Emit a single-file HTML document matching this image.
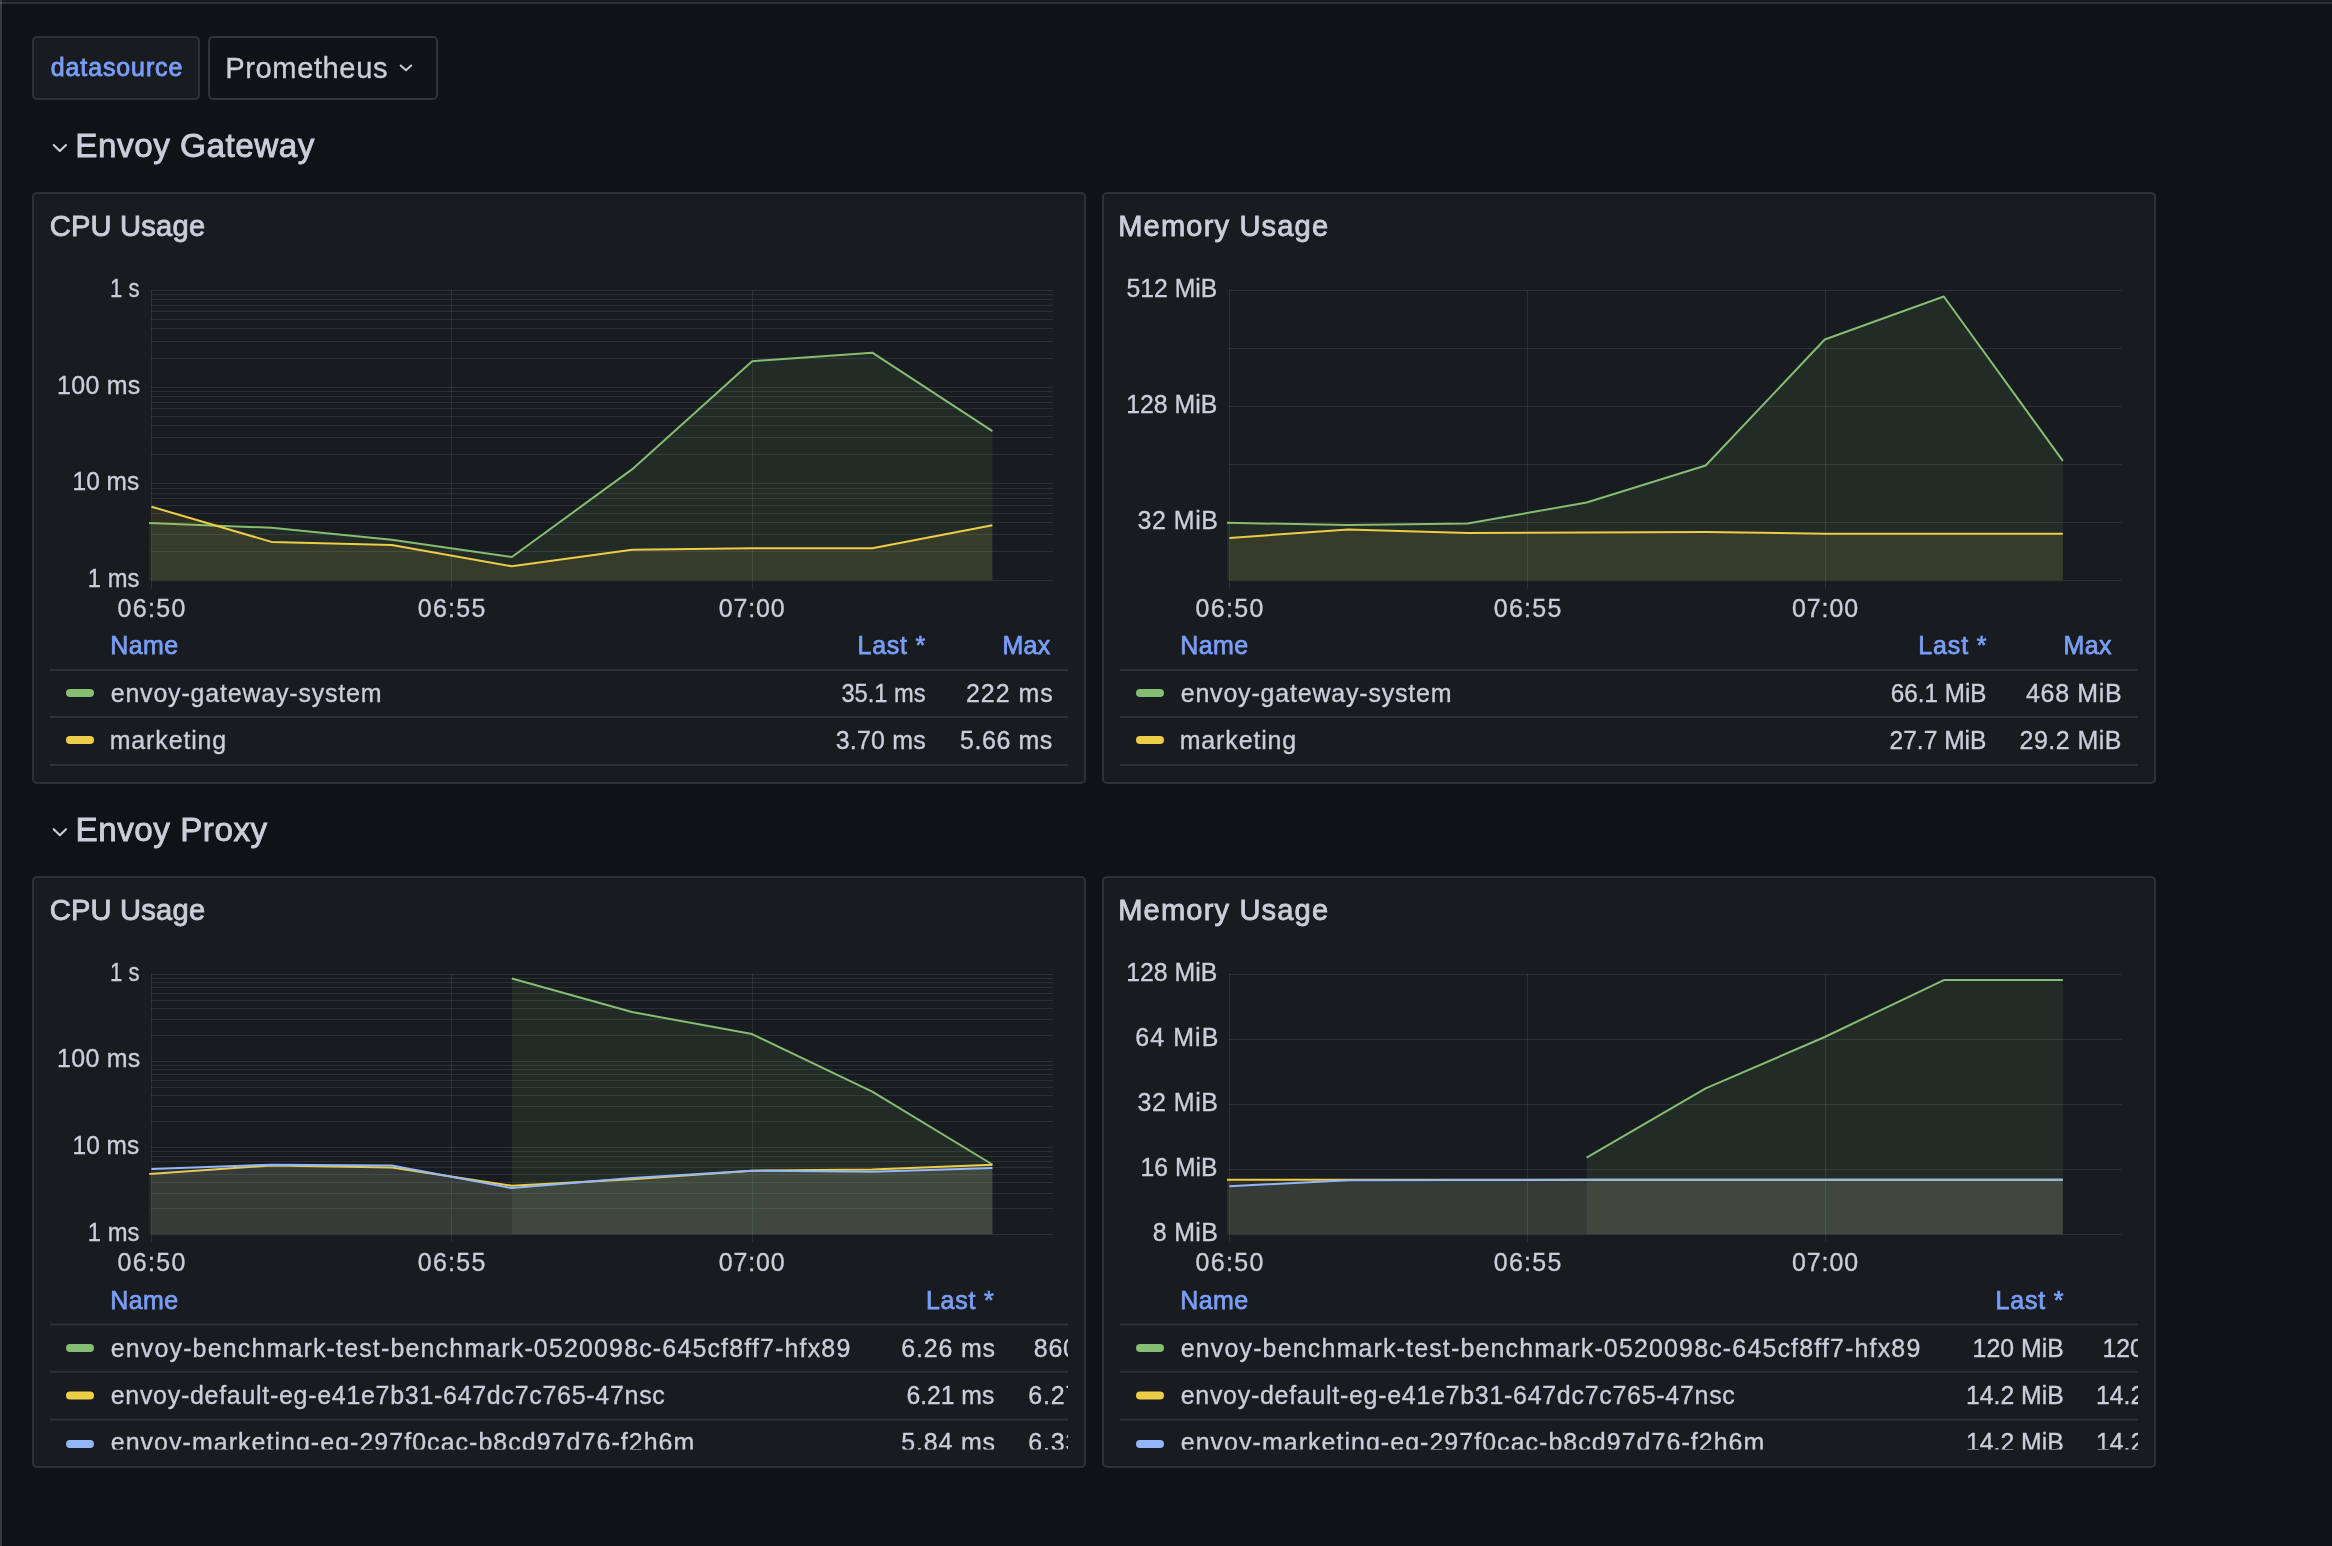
<!DOCTYPE html>
<html><head><meta charset="utf-8"><title>Grafana</title>
<style>
html,body{margin:0;padding:0;background:#111217;overflow:hidden;width:2332px;height:1546px}
svg{display:block;will-change:transform}
text{font-family:"Liberation Sans",sans-serif;white-space:pre}
</style></head><body>
<svg width="2332" height="1546" viewBox="0 0 2332 1546">
<defs>
<clipPath id="legclip3"><rect x="50" y="1420" width="1018" height="29.5"/></clipPath>
<clipPath id="legclip4"><rect x="1120" y="1420" width="1018" height="29.5"/></clipPath>
<clipPath id="legclip3w"><rect x="50" y="1300" width="1018" height="200"/></clipPath>
<clipPath id="legclip4w"><rect x="1120" y="1300" width="1018" height="200"/></clipPath>
</defs>
<rect x="0" y="0" width="2332" height="1546" fill="#111217"/>
<rect x="0" y="0" width="2332" height="2" fill="#191b1e"/>
<rect x="0" y="2" width="2332" height="2" fill="#2d2f33"/>
<rect x="0" y="0" width="2" height="2" fill="#3a3d40"/>
<rect x="0" y="2" width="2" height="2" fill="#505357"/>
<rect x="0" y="4" width="2" height="1542" fill="#39393c"/>
<rect x="33" y="37" width="166" height="62" rx="4" fill="#181b1f" stroke="#2d3034" stroke-width="2"/>
<rect x="209" y="37" width="228" height="62" rx="4" fill="#111217" stroke="#323439" stroke-width="2"/>
<polyline points="400.7,65.5 405.95,70.2 411.2,65.5" fill="none" stroke="#ccccdb" stroke-width="2" stroke-linecap="round" stroke-linejoin="round"/>
<polyline points="53.7,145.0 59.85,151.0 66.0,145.0" fill="none" stroke="#ccccdb" stroke-width="2.1" stroke-linecap="round" stroke-linejoin="round"/>
<polyline points="53.7,829.2 59.85,835.2 66.0,829.2" fill="none" stroke="#ccccdb" stroke-width="2.1" stroke-linecap="round" stroke-linejoin="round"/>
<rect x="33" y="193" width="1052" height="590" rx="4" fill="#181b1f" stroke="#2d3034" stroke-width="2"/>
<rect x="1103" y="193" width="1052" height="590" rx="4" fill="#181b1f" stroke="#2d3034" stroke-width="2"/>
<rect x="33" y="877" width="1052" height="590" rx="4" fill="#181b1f" stroke="#2d3034" stroke-width="2"/>
<rect x="1103" y="877" width="1052" height="590" rx="4" fill="#181b1f" stroke="#2d3034" stroke-width="2"/>
<rect x="50" y="669.0" width="1018" height="2" fill="#2d3034"/>
<rect x="50" y="716.0" width="1018" height="2" fill="#2d3034"/>
<rect x="50" y="764.0" width="1018" height="2" fill="#2d3034"/>
<rect x="50" y="1323.5" width="1018" height="2" fill="#2d3034"/>
<rect x="50" y="1370.8" width="1018" height="2" fill="#2d3034"/>
<rect x="50" y="1418.6" width="1018" height="2" fill="#2d3034"/>
<rect x="1120" y="669.0" width="1018" height="2" fill="#2d3034"/>
<rect x="1120" y="716.0" width="1018" height="2" fill="#2d3034"/>
<rect x="1120" y="764.0" width="1018" height="2" fill="#2d3034"/>
<rect x="1120" y="1323.5" width="1018" height="2" fill="#2d3034"/>
<rect x="1120" y="1370.8" width="1018" height="2" fill="#2d3034"/>
<rect x="1120" y="1418.6" width="1018" height="2" fill="#2d3034"/>
<rect x="66" y="689.0" width="28" height="8" rx="4" fill="#85bd72"/>
<rect x="66" y="736.0" width="28" height="8" rx="4" fill="#eccd47"/>
<rect x="66" y="1344.0" width="28" height="8" rx="4" fill="#85bd72"/>
<rect x="66" y="1391.6" width="28" height="8" rx="4" fill="#eccd47"/>
<rect x="66" y="1440.0" width="28" height="8" rx="4" fill="#94b7f9"/>
<rect x="1136" y="689.0" width="28" height="8" rx="4" fill="#85bd72"/>
<rect x="1136" y="736.0" width="28" height="8" rx="4" fill="#eccd47"/>
<rect x="1136" y="1344.0" width="28" height="8" rx="4" fill="#85bd72"/>
<rect x="1136" y="1391.6" width="28" height="8" rx="4" fill="#eccd47"/>
<rect x="1136" y="1440.0" width="28" height="8" rx="4" fill="#94b7f9"/>
<rect x="151" y="580" width="902" height="1" fill="rgba(240,250,255,0.09)"/>
<rect x="151" y="551" width="902" height="1" fill="rgba(240,250,255,0.09)"/>
<rect x="151" y="534" width="902" height="1" fill="rgba(240,250,255,0.09)"/>
<rect x="151" y="522" width="902" height="1" fill="rgba(240,250,255,0.09)"/>
<rect x="151" y="513" width="902" height="1" fill="rgba(240,250,255,0.09)"/>
<rect x="151" y="505" width="902" height="1" fill="rgba(240,250,255,0.09)"/>
<rect x="151" y="498" width="902" height="1" fill="rgba(240,250,255,0.09)"/>
<rect x="151" y="493" width="902" height="1" fill="rgba(240,250,255,0.09)"/>
<rect x="151" y="488" width="902" height="1" fill="rgba(240,250,255,0.09)"/>
<rect x="151" y="483" width="902" height="1" fill="rgba(240,250,255,0.09)"/>
<rect x="151" y="454" width="902" height="1" fill="rgba(240,250,255,0.09)"/>
<rect x="151" y="437" width="902" height="1" fill="rgba(240,250,255,0.09)"/>
<rect x="151" y="425" width="902" height="1" fill="rgba(240,250,255,0.09)"/>
<rect x="151" y="416" width="902" height="1" fill="rgba(240,250,255,0.09)"/>
<rect x="151" y="408" width="902" height="1" fill="rgba(240,250,255,0.09)"/>
<rect x="151" y="402" width="902" height="1" fill="rgba(240,250,255,0.09)"/>
<rect x="151" y="396" width="902" height="1" fill="rgba(240,250,255,0.09)"/>
<rect x="151" y="391" width="902" height="1" fill="rgba(240,250,255,0.09)"/>
<rect x="151" y="387" width="902" height="1" fill="rgba(240,250,255,0.09)"/>
<rect x="151" y="358" width="902" height="1" fill="rgba(240,250,255,0.09)"/>
<rect x="151" y="341" width="902" height="1" fill="rgba(240,250,255,0.09)"/>
<rect x="151" y="328" width="902" height="1" fill="rgba(240,250,255,0.09)"/>
<rect x="151" y="319" width="902" height="1" fill="rgba(240,250,255,0.09)"/>
<rect x="151" y="311" width="902" height="1" fill="rgba(240,250,255,0.09)"/>
<rect x="151" y="305" width="902" height="1" fill="rgba(240,250,255,0.09)"/>
<rect x="151" y="299" width="902" height="1" fill="rgba(240,250,255,0.09)"/>
<rect x="151" y="294" width="902" height="1" fill="rgba(240,250,255,0.09)"/>
<rect x="151" y="290" width="902" height="1" fill="rgba(240,250,255,0.09)"/>
<rect x="151" y="290" width="1" height="299" fill="rgba(240,250,255,0.09)"/>
<rect x="451" y="290" width="1" height="299" fill="rgba(240,250,255,0.09)"/>
<rect x="752" y="290" width="1" height="299" fill="rgba(240,250,255,0.09)"/>
<polygon points="149.00,580.20 149.00,522.90 271.55,527.80 391.69,539.80 511.84,557.00 631.99,469.40 752.13,361.20 872.28,352.70 992.43,431.10 992.43,580.20" fill="#85bd72" fill-opacity="0.1"/><polyline points="149.00,522.90 271.55,527.80 391.69,539.80 511.84,557.00 631.99,469.40 752.13,361.20 872.28,352.70 992.43,431.10" fill="none" stroke="#85bd72" stroke-width="2" stroke-linejoin="round"/>
<polygon points="151.40,580.20 151.40,506.70 271.55,541.90 391.69,545.00 511.84,566.30 631.99,549.80 752.13,548.30 872.28,548.30 992.43,525.30 992.43,580.20" fill="#eccd47" fill-opacity="0.1"/><polyline points="151.40,506.70 271.55,541.90 391.69,545.00 511.84,566.30 631.99,549.80 752.13,548.30 872.28,548.30 992.43,525.30" fill="none" stroke="#eccd47" stroke-width="2" stroke-linejoin="round"/>
<rect x="1229" y="290" width="893" height="1" fill="rgba(240,250,255,0.09)"/>
<rect x="1229" y="348" width="893" height="1" fill="rgba(240,250,255,0.09)"/>
<rect x="1229" y="406" width="893" height="1" fill="rgba(240,250,255,0.09)"/>
<rect x="1229" y="464" width="893" height="1" fill="rgba(240,250,255,0.09)"/>
<rect x="1229" y="522" width="893" height="1" fill="rgba(240,250,255,0.09)"/>
<rect x="1229" y="580" width="893" height="1" fill="rgba(240,250,255,0.09)"/>
<rect x="1229" y="290" width="1" height="299" fill="rgba(240,250,255,0.09)"/>
<rect x="1527" y="290" width="1" height="299" fill="rgba(240,250,255,0.09)"/>
<rect x="1825" y="290" width="1" height="299" fill="rgba(240,250,255,0.09)"/>
<polygon points="1227.00,580.20 1227.00,522.80 1348.47,525.10 1467.53,523.60 1586.60,502.50 1705.67,465.50 1824.73,339.50 1943.80,296.50 2062.87,460.90 2062.87,580.20" fill="#85bd72" fill-opacity="0.1"/><polyline points="1227.00,522.80 1348.47,525.10 1467.53,523.60 1586.60,502.50 1705.67,465.50 1824.73,339.50 1943.80,296.50 2062.87,460.90" fill="none" stroke="#85bd72" stroke-width="2" stroke-linejoin="round"/>
<polygon points="1229.40,580.20 1229.40,537.90 1348.47,529.60 1467.53,532.90 1586.60,532.50 1705.67,531.90 1824.73,533.70 1943.80,533.70 2062.87,533.70 2062.87,580.20" fill="#eccd47" fill-opacity="0.1"/><polyline points="1229.40,537.90 1348.47,529.60 1467.53,532.90 1586.60,532.50 1705.67,531.90 1824.73,533.70 1943.80,533.70 2062.87,533.70" fill="none" stroke="#eccd47" stroke-width="2" stroke-linejoin="round"/>
<rect x="151" y="1234" width="902" height="1" fill="rgba(240,250,255,0.09)"/>
<rect x="151" y="1208" width="902" height="1" fill="rgba(240,250,255,0.09)"/>
<rect x="151" y="1193" width="902" height="1" fill="rgba(240,250,255,0.09)"/>
<rect x="151" y="1182" width="902" height="1" fill="rgba(240,250,255,0.09)"/>
<rect x="151" y="1174" width="902" height="1" fill="rgba(240,250,255,0.09)"/>
<rect x="151" y="1167" width="902" height="1" fill="rgba(240,250,255,0.09)"/>
<rect x="151" y="1161" width="902" height="1" fill="rgba(240,250,255,0.09)"/>
<rect x="151" y="1156" width="902" height="1" fill="rgba(240,250,255,0.09)"/>
<rect x="151" y="1151" width="902" height="1" fill="rgba(240,250,255,0.09)"/>
<rect x="151" y="1147" width="902" height="1" fill="rgba(240,250,255,0.09)"/>
<rect x="151" y="1121" width="902" height="1" fill="rgba(240,250,255,0.09)"/>
<rect x="151" y="1106" width="902" height="1" fill="rgba(240,250,255,0.09)"/>
<rect x="151" y="1095" width="902" height="1" fill="rgba(240,250,255,0.09)"/>
<rect x="151" y="1087" width="902" height="1" fill="rgba(240,250,255,0.09)"/>
<rect x="151" y="1080" width="902" height="1" fill="rgba(240,250,255,0.09)"/>
<rect x="151" y="1074" width="902" height="1" fill="rgba(240,250,255,0.09)"/>
<rect x="151" y="1069" width="902" height="1" fill="rgba(240,250,255,0.09)"/>
<rect x="151" y="1065" width="902" height="1" fill="rgba(240,250,255,0.09)"/>
<rect x="151" y="1061" width="902" height="1" fill="rgba(240,250,255,0.09)"/>
<rect x="151" y="1035" width="902" height="1" fill="rgba(240,250,255,0.09)"/>
<rect x="151" y="1019" width="902" height="1" fill="rgba(240,250,255,0.09)"/>
<rect x="151" y="1008" width="902" height="1" fill="rgba(240,250,255,0.09)"/>
<rect x="151" y="1000" width="902" height="1" fill="rgba(240,250,255,0.09)"/>
<rect x="151" y="993" width="902" height="1" fill="rgba(240,250,255,0.09)"/>
<rect x="151" y="987" width="902" height="1" fill="rgba(240,250,255,0.09)"/>
<rect x="151" y="982" width="902" height="1" fill="rgba(240,250,255,0.09)"/>
<rect x="151" y="978" width="902" height="1" fill="rgba(240,250,255,0.09)"/>
<rect x="151" y="974" width="902" height="1" fill="rgba(240,250,255,0.09)"/>
<rect x="151" y="974" width="1" height="268" fill="rgba(240,250,255,0.09)"/>
<rect x="451" y="974" width="1" height="268" fill="rgba(240,250,255,0.09)"/>
<rect x="752" y="974" width="1" height="268" fill="rgba(240,250,255,0.09)"/>
<polygon points="511.84,1234.30 511.84,978.50 631.99,1012.00 752.13,1034.10 872.28,1091.60 992.43,1164.50 992.43,1234.30" fill="#85bd72" fill-opacity="0.1"/><polyline points="511.84,978.50 631.99,1012.00 752.13,1034.10 872.28,1091.60 992.43,1164.50" fill="none" stroke="#85bd72" stroke-width="2" stroke-linejoin="round"/>
<polygon points="149.30,1234.30 149.30,1174.10 271.55,1165.40 391.69,1167.40 511.84,1185.70 631.99,1179.20 752.13,1170.70 872.28,1169.60 992.43,1164.70 992.43,1234.30" fill="#eccd47" fill-opacity="0.1"/><polyline points="149.30,1174.10 271.55,1165.40 391.69,1167.40 511.84,1185.70 631.99,1179.20 752.13,1170.70 872.28,1169.60 992.43,1164.70" fill="none" stroke="#eccd47" stroke-width="2" stroke-linejoin="round"/>
<polygon points="151.40,1234.30 151.40,1169.00 271.55,1164.70 391.69,1165.60 511.84,1188.10 631.99,1177.90 752.13,1170.70 872.28,1171.80 992.43,1168.00 992.43,1234.30" fill="#94b7f9" fill-opacity="0.1"/><polyline points="151.40,1169.00 271.55,1164.70 391.69,1165.60 511.84,1188.10 631.99,1177.90 752.13,1170.70 872.28,1171.80 992.43,1168.00" fill="none" stroke="#94b7f9" stroke-width="2" stroke-linejoin="round"/>
<rect x="1229" y="974" width="893" height="1" fill="rgba(240,250,255,0.09)"/>
<rect x="1229" y="1039" width="893" height="1" fill="rgba(240,250,255,0.09)"/>
<rect x="1229" y="1104" width="893" height="1" fill="rgba(240,250,255,0.09)"/>
<rect x="1229" y="1169" width="893" height="1" fill="rgba(240,250,255,0.09)"/>
<rect x="1229" y="1234" width="893" height="1" fill="rgba(240,250,255,0.09)"/>
<rect x="1229" y="974" width="1" height="268" fill="rgba(240,250,255,0.09)"/>
<rect x="1527" y="974" width="1" height="268" fill="rgba(240,250,255,0.09)"/>
<rect x="1825" y="974" width="1" height="268" fill="rgba(240,250,255,0.09)"/>
<polygon points="1586.60,1234.30 1586.60,1157.60 1705.67,1088.40 1824.73,1037.00 1943.80,980.10 2062.87,980.10 2062.87,1234.30" fill="#85bd72" fill-opacity="0.1"/><polyline points="1586.60,1157.60 1705.67,1088.40 1824.73,1037.00 1943.80,980.10 2062.87,980.10" fill="none" stroke="#85bd72" stroke-width="2" stroke-linejoin="round"/>
<polygon points="1227.00,1234.30 1227.00,1179.70 1348.47,1179.70 1467.53,1179.70 1586.60,1179.70 1705.67,1179.70 1824.73,1179.70 1943.80,1179.70 2062.87,1179.70 2062.87,1234.30" fill="#eccd47" fill-opacity="0.1"/><polyline points="1227.00,1179.70 1348.47,1179.70 1467.53,1179.70 1586.60,1179.70 1705.67,1179.70 1824.73,1179.70 1943.80,1179.70 2062.87,1179.70" fill="none" stroke="#eccd47" stroke-width="2" stroke-linejoin="round"/>
<polygon points="1229.40,1234.30 1229.40,1186.20 1348.47,1180.20 1467.53,1180.00 1586.60,1179.80 1705.67,1179.80 1824.73,1179.80 1943.80,1179.80 2062.87,1179.80 2062.87,1234.30" fill="#94b7f9" fill-opacity="0.1"/><polyline points="1229.40,1186.20 1348.47,1180.20 1467.53,1180.00 1586.60,1179.80 1705.67,1179.80 1824.73,1179.80 1943.80,1179.80 2062.87,1179.80" fill="none" stroke="#94b7f9" stroke-width="2" stroke-linejoin="round"/>
<text x="50.70" y="76.20" font-size="24.96" fill="#799ef8" stroke="#799ef8" stroke-width="0.85" textLength="131.69" lengthAdjust="spacing">datasource</text>
<text x="225.30" y="78.20" font-size="29.12" fill="#ccccdb" stroke="#ccccdb" stroke-width="0.35" textLength="162.18" lengthAdjust="spacing">Prometheus</text>
<text x="75.30" y="156.90" font-size="33.28" fill="#ccccdb" stroke="#ccccdb" stroke-width="0.85" textLength="239.05" lengthAdjust="spacing">Envoy Gateway</text>
<text x="75.50" y="841.00" font-size="33.28" fill="#ccccdb" stroke="#ccccdb" stroke-width="0.85" textLength="191.68" lengthAdjust="spacing">Envoy Proxy</text>
<text x="49.70" y="236.20" font-size="29.12" fill="#ccccdb" stroke="#ccccdb" stroke-width="0.85" textLength="155.39" lengthAdjust="spacing">CPU Usage</text>
<text x="1118.20" y="236.20" font-size="29.12" fill="#ccccdb" stroke="#ccccdb" stroke-width="0.85" textLength="209.90" lengthAdjust="spacing">Memory Usage</text>
<text x="49.70" y="920.40" font-size="29.12" fill="#ccccdb" stroke="#ccccdb" stroke-width="0.85" textLength="155.39" lengthAdjust="spacing">CPU Usage</text>
<text x="1118.20" y="920.40" font-size="29.12" fill="#ccccdb" stroke="#ccccdb" stroke-width="0.85" textLength="209.90" lengthAdjust="spacing">Memory Usage</text>
<text x="110.02" y="296.90" font-size="24.96" fill="#ccccdb" stroke="#ccccdb" stroke-width="0.35" textLength="29.45" lengthAdjust="spacingAndGlyphs">1 s</text>
<text x="57.10" y="393.60" font-size="24.96" fill="#ccccdb" stroke="#ccccdb" stroke-width="0.35" textLength="83.16" lengthAdjust="spacing">100 ms</text>
<text x="72.62" y="490.40" font-size="24.96" fill="#ccccdb" stroke="#ccccdb" stroke-width="0.35" textLength="66.53" lengthAdjust="spacingAndGlyphs">10 ms</text>
<text x="87.85" y="587.10" font-size="24.96" fill="#ccccdb" stroke="#ccccdb" stroke-width="0.35" textLength="51.43" lengthAdjust="spacingAndGlyphs">1 ms</text>
<text x="1126.61" y="296.90" font-size="24.96" fill="#ccccdb" stroke="#ccccdb" stroke-width="0.35" textLength="90.73" lengthAdjust="spacingAndGlyphs">512 MiB</text>
<text x="1126.20" y="413.00" font-size="24.96" fill="#ccccdb" stroke="#ccccdb" stroke-width="0.35" textLength="91.14" lengthAdjust="spacingAndGlyphs">128 MiB</text>
<text x="1137.50" y="529.10" font-size="24.96" fill="#ccccdb" stroke="#ccccdb" stroke-width="0.35" textLength="80.43" lengthAdjust="spacing">32 MiB</text>
<text x="110.02" y="980.60" font-size="24.96" fill="#ccccdb" stroke="#ccccdb" stroke-width="0.35" textLength="29.45" lengthAdjust="spacingAndGlyphs">1 s</text>
<text x="57.10" y="1067.30" font-size="24.96" fill="#ccccdb" stroke="#ccccdb" stroke-width="0.35" textLength="83.16" lengthAdjust="spacing">100 ms</text>
<text x="72.62" y="1154.00" font-size="24.96" fill="#ccccdb" stroke="#ccccdb" stroke-width="0.35" textLength="66.53" lengthAdjust="spacingAndGlyphs">10 ms</text>
<text x="87.85" y="1240.60" font-size="24.96" fill="#ccccdb" stroke="#ccccdb" stroke-width="0.35" textLength="51.43" lengthAdjust="spacingAndGlyphs">1 ms</text>
<text x="1126.20" y="980.60" font-size="24.96" fill="#ccccdb" stroke="#ccccdb" stroke-width="0.35" textLength="91.14" lengthAdjust="spacingAndGlyphs">128 MiB</text>
<text x="1135.30" y="1045.60" font-size="24.96" fill="#ccccdb" stroke="#ccccdb" stroke-width="0.35" textLength="83.07" lengthAdjust="spacing">64 MiB</text>
<text x="1137.50" y="1110.60" font-size="24.96" fill="#ccccdb" stroke="#ccccdb" stroke-width="0.35" textLength="80.43" lengthAdjust="spacing">32 MiB</text>
<text x="1140.61" y="1175.50" font-size="24.96" fill="#ccccdb" stroke="#ccccdb" stroke-width="0.35" textLength="76.85" lengthAdjust="spacingAndGlyphs">16 MiB</text>
<text x="1152.70" y="1240.50" font-size="24.96" fill="#ccccdb" stroke="#ccccdb" stroke-width="0.35" textLength="65.17" lengthAdjust="spacing">8 MiB</text>
<text x="117.60" y="617.00" font-size="24.96" fill="#ccccdb" stroke="#ccccdb" stroke-width="0.35" textLength="67.70" lengthAdjust="spacing">06:50</text>
<text x="417.75" y="617.00" font-size="24.96" fill="#ccccdb" stroke="#ccccdb" stroke-width="0.35" textLength="67.58" lengthAdjust="spacing">06:55</text>
<text x="718.80" y="617.00" font-size="24.96" fill="#ccccdb" stroke="#ccccdb" stroke-width="0.35" textLength="65.95" lengthAdjust="spacing">07:00</text>
<text x="1195.60" y="617.00" font-size="24.96" fill="#ccccdb" stroke="#ccccdb" stroke-width="0.35" textLength="67.70" lengthAdjust="spacing">06:50</text>
<text x="1493.75" y="617.00" font-size="24.96" fill="#ccccdb" stroke="#ccccdb" stroke-width="0.35" textLength="67.58" lengthAdjust="spacing">06:55</text>
<text x="1792.10" y="617.00" font-size="24.96" fill="#ccccdb" stroke="#ccccdb" stroke-width="0.35" textLength="65.95" lengthAdjust="spacing">07:00</text>
<text x="117.60" y="1270.70" font-size="24.96" fill="#ccccdb" stroke="#ccccdb" stroke-width="0.35" textLength="67.70" lengthAdjust="spacing">06:50</text>
<text x="417.75" y="1270.70" font-size="24.96" fill="#ccccdb" stroke="#ccccdb" stroke-width="0.35" textLength="67.58" lengthAdjust="spacing">06:55</text>
<text x="718.80" y="1270.70" font-size="24.96" fill="#ccccdb" stroke="#ccccdb" stroke-width="0.35" textLength="65.95" lengthAdjust="spacing">07:00</text>
<text x="1195.60" y="1270.70" font-size="24.96" fill="#ccccdb" stroke="#ccccdb" stroke-width="0.35" textLength="67.70" lengthAdjust="spacing">06:50</text>
<text x="1493.75" y="1270.70" font-size="24.96" fill="#ccccdb" stroke="#ccccdb" stroke-width="0.35" textLength="67.58" lengthAdjust="spacing">06:55</text>
<text x="1792.10" y="1270.70" font-size="24.96" fill="#ccccdb" stroke="#ccccdb" stroke-width="0.35" textLength="65.95" lengthAdjust="spacing">07:00</text>
<text x="110.20" y="654.00" font-size="24.96" fill="#799ef8" stroke="#799ef8" stroke-width="0.75" textLength="67.90" lengthAdjust="spacing">Name</text>
<text x="1180.20" y="654.00" font-size="24.96" fill="#799ef8" stroke="#799ef8" stroke-width="0.75" textLength="67.90" lengthAdjust="spacing">Name</text>
<text x="857.50" y="654.00" font-size="24.96" fill="#799ef8" stroke="#799ef8" stroke-width="0.75" textLength="67.77" lengthAdjust="spacing">Last *</text>
<text x="1002.50" y="654.00" font-size="24.96" fill="#799ef8" stroke="#799ef8" stroke-width="0.75" textLength="47.74" lengthAdjust="spacing">Max</text>
<text x="1918.30" y="654.00" font-size="24.96" fill="#799ef8" stroke="#799ef8" stroke-width="0.75" textLength="68.25" lengthAdjust="spacing">Last *</text>
<text x="2063.40" y="654.00" font-size="24.96" fill="#799ef8" stroke="#799ef8" stroke-width="0.75" textLength="48.04" lengthAdjust="spacing">Max</text>
<text x="110.70" y="702.20" font-size="24.96" fill="#ccccdb" stroke="#ccccdb" stroke-width="0.35" textLength="270.87" lengthAdjust="spacing">envoy-gateway-system</text>
<text x="109.70" y="749.00" font-size="24.96" fill="#ccccdb" stroke="#ccccdb" stroke-width="0.35" textLength="116.54" lengthAdjust="spacing">marketing</text>
<text x="1180.70" y="702.20" font-size="24.96" fill="#ccccdb" stroke="#ccccdb" stroke-width="0.35" textLength="270.87" lengthAdjust="spacing">envoy-gateway-system</text>
<text x="1179.70" y="749.00" font-size="24.96" fill="#ccccdb" stroke="#ccccdb" stroke-width="0.35" textLength="116.54" lengthAdjust="spacing">marketing</text>
<text x="841.40" y="702.20" font-size="24.96" fill="#ccccdb" stroke="#ccccdb" stroke-width="0.35" textLength="84.13" lengthAdjust="spacingAndGlyphs">35.1 ms</text>
<text x="835.80" y="749.00" font-size="24.96" fill="#ccccdb" stroke="#ccccdb" stroke-width="0.35" textLength="89.93" lengthAdjust="spacing">3.70 ms</text>
<text x="965.90" y="702.20" font-size="24.96" fill="#ccccdb" stroke="#ccccdb" stroke-width="0.35" textLength="86.76" lengthAdjust="spacing">222 ms</text>
<text x="959.90" y="749.00" font-size="24.96" fill="#ccccdb" stroke="#ccccdb" stroke-width="0.35" textLength="92.38" lengthAdjust="spacing">5.66 ms</text>
<text x="1890.83" y="702.20" font-size="24.96" fill="#ccccdb" stroke="#ccccdb" stroke-width="0.35" textLength="95.64" lengthAdjust="spacingAndGlyphs">66.1 MiB</text>
<text x="1889.52" y="749.00" font-size="24.96" fill="#ccccdb" stroke="#ccccdb" stroke-width="0.35" textLength="96.96" lengthAdjust="spacingAndGlyphs">27.7 MiB</text>
<text x="2026.00" y="702.20" font-size="24.96" fill="#ccccdb" stroke="#ccccdb" stroke-width="0.35" textLength="95.75" lengthAdjust="spacing">468 MiB</text>
<text x="2019.50" y="749.00" font-size="24.96" fill="#ccccdb" stroke="#ccccdb" stroke-width="0.35" textLength="102.03" lengthAdjust="spacing">29.2 MiB</text>
<text x="110.20" y="1309.20" font-size="24.96" fill="#799ef8" stroke="#799ef8" stroke-width="0.75" textLength="67.90" lengthAdjust="spacing">Name</text>
<text x="1180.20" y="1309.20" font-size="24.96" fill="#799ef8" stroke="#799ef8" stroke-width="0.75" textLength="67.90" lengthAdjust="spacing">Name</text>
<text x="925.90" y="1309.20" font-size="24.96" fill="#799ef8" stroke="#799ef8" stroke-width="0.75" textLength="67.89" lengthAdjust="spacing">Last *</text>
<text x="1995.50" y="1309.20" font-size="24.96" fill="#799ef8" stroke="#799ef8" stroke-width="0.75" textLength="68.01" lengthAdjust="spacing">Last *</text>
<text x="110.70" y="1357.20" font-size="24.96" fill="#ccccdb" stroke="#ccccdb" stroke-width="0.35" textLength="739.57" lengthAdjust="spacing">envoy-benchmark-test-benchmark-0520098c-645cf8ff7-hfx89</text>
<text x="1180.70" y="1357.20" font-size="24.96" fill="#ccccdb" stroke="#ccccdb" stroke-width="0.35" textLength="739.57" lengthAdjust="spacing">envoy-benchmark-test-benchmark-0520098c-645cf8ff7-hfx89</text>
<text x="110.70" y="1404.20" font-size="24.96" fill="#ccccdb" stroke="#ccccdb" stroke-width="0.35" textLength="554.11" lengthAdjust="spacing">envoy-default-eg-e41e7b31-647dc7c765-47nsc</text>
<text x="1180.70" y="1404.20" font-size="24.96" fill="#ccccdb" stroke="#ccccdb" stroke-width="0.35" textLength="554.11" lengthAdjust="spacing">envoy-default-eg-e41e7b31-647dc7c765-47nsc</text>
<text x="110.70" y="1451.40" font-size="24.96" fill="#ccccdb" stroke="#ccccdb" stroke-width="0.35" textLength="583.60" lengthAdjust="spacing" clip-path="url(#legclip3)">envoy-marketing-eg-297f0cac-b8cd97d76-f2h6m</text>
<text x="1180.70" y="1451.40" font-size="24.96" fill="#ccccdb" stroke="#ccccdb" stroke-width="0.35" textLength="583.60" lengthAdjust="spacing" clip-path="url(#legclip4)">envoy-marketing-eg-297f0cac-b8cd97d76-f2h6m</text>
<text x="901.30" y="1357.20" font-size="24.96" fill="#ccccdb" stroke="#ccccdb" stroke-width="0.35" textLength="93.67" lengthAdjust="spacing">6.26 ms</text>
<text x="1972.60" y="1357.20" font-size="24.96" fill="#ccccdb" stroke="#ccccdb" stroke-width="0.35" textLength="91.14" lengthAdjust="spacingAndGlyphs">120 MiB</text>
<text x="1033.80" y="1357.20" font-size="24.96" fill="#ccccdb" stroke="#ccccdb" stroke-width="0.35" textLength="85.56" lengthAdjust="spacing" clip-path="url(#legclip3w)">860 ms</text>
<text x="2102.51" y="1357.20" font-size="24.96" fill="#ccccdb" stroke="#ccccdb" stroke-width="0.35" textLength="90.94" lengthAdjust="spacingAndGlyphs" clip-path="url(#legclip4w)">120 MiB</text>
<text x="906.41" y="1404.20" font-size="24.96" fill="#ccccdb" stroke="#ccccdb" stroke-width="0.35" textLength="87.85" lengthAdjust="spacingAndGlyphs">6.21 ms</text>
<text x="1966.01" y="1404.20" font-size="24.96" fill="#ccccdb" stroke="#ccccdb" stroke-width="0.35" textLength="97.67" lengthAdjust="spacingAndGlyphs">14.2 MiB</text>
<text x="1028.30" y="1404.20" font-size="24.96" fill="#ccccdb" stroke="#ccccdb" stroke-width="0.35" textLength="93.90" lengthAdjust="spacing" clip-path="url(#legclip3w)">6.27 ms</text>
<text x="2096.01" y="1404.20" font-size="24.96" fill="#ccccdb" stroke="#ccccdb" stroke-width="0.35" textLength="97.67" lengthAdjust="spacingAndGlyphs" clip-path="url(#legclip4w)">14.2 MiB</text>
<text x="901.30" y="1451.40" font-size="24.96" fill="#ccccdb" stroke="#ccccdb" stroke-width="0.35" textLength="93.67" lengthAdjust="spacing" clip-path="url(#legclip3)">5.84 ms</text>
<text x="1966.01" y="1451.40" font-size="24.96" fill="#ccccdb" stroke="#ccccdb" stroke-width="0.35" textLength="97.67" lengthAdjust="spacingAndGlyphs" clip-path="url(#legclip4)">14.2 MiB</text>
<text x="1028.30" y="1451.40" font-size="24.96" fill="#ccccdb" stroke="#ccccdb" stroke-width="0.35" textLength="93.90" lengthAdjust="spacing" clip-path="url(#legclip3)">6.33 ms</text>
<text x="2096.01" y="1451.40" font-size="24.96" fill="#ccccdb" stroke="#ccccdb" stroke-width="0.35" textLength="97.67" lengthAdjust="spacingAndGlyphs" clip-path="url(#legclip4)">14.2 MiB</text>
</svg>
</body></html>
